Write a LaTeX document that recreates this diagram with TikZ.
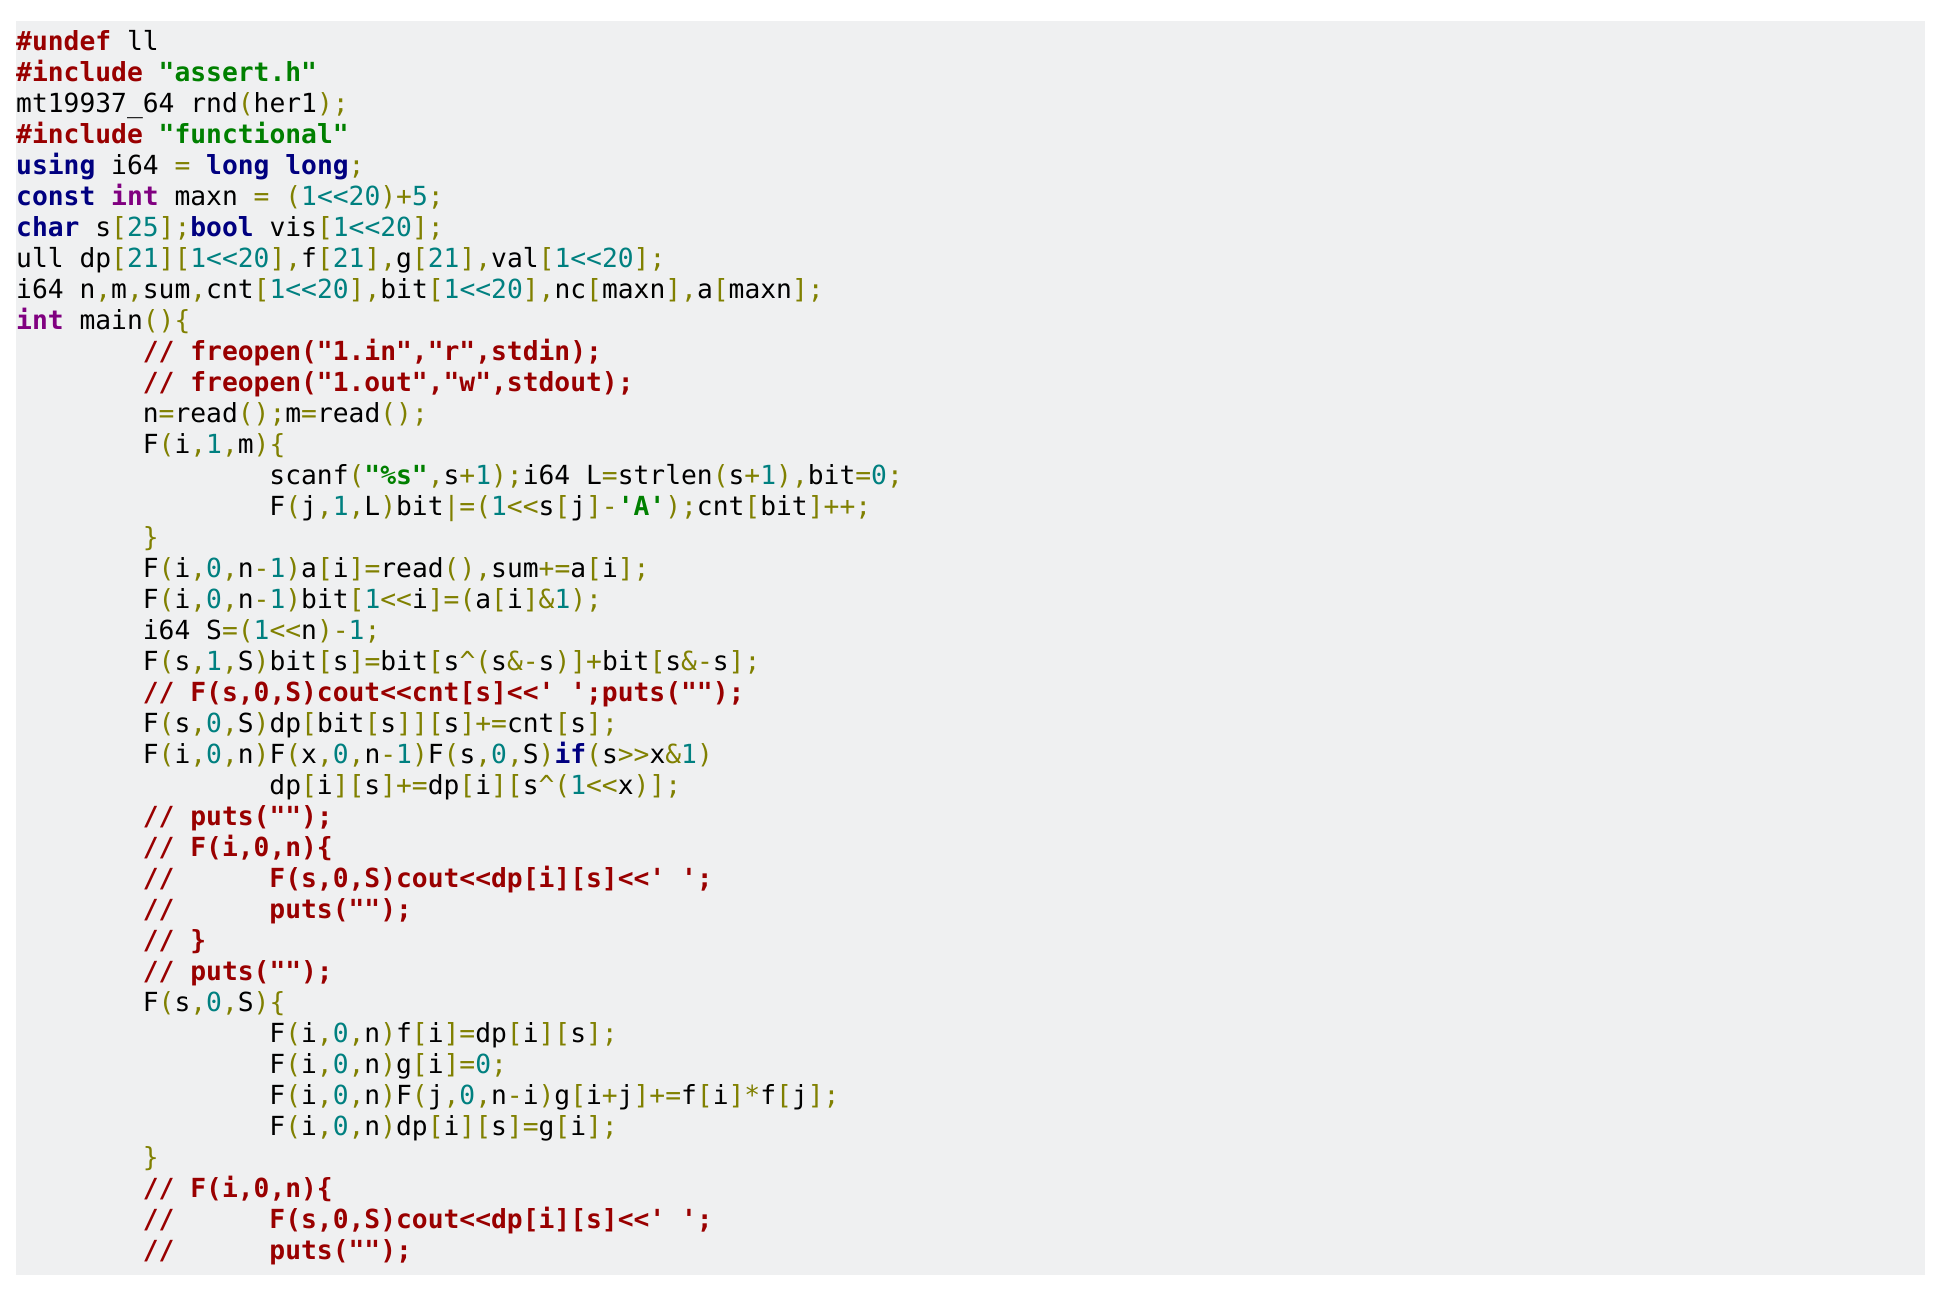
\documentclass[tikz,border=0pt]{standalone}
\usepackage{fontspec}
\setmonofont{DejaVu Sans Mono}
\definecolor{cred}{HTML}{990000}
\definecolor{cgreen}{HTML}{008000}
\definecolor{cnavy}{HTML}{000080}
\definecolor{cpurple}{HTML}{800080}
\definecolor{cteal}{HTML}{008080}
\definecolor{colive}{HTML}{808000}
\definecolor{cbg}{HTML}{EFF0F1}
\newcommand\cR[1]{\textcolor{cred}{\bfseries #1}}
\newcommand\cG[1]{\textcolor{cgreen}{\bfseries #1}}
\newcommand\cB[1]{\textcolor{cnavy}{\bfseries #1}}
\newcommand\cP[1]{\textcolor{cpurple}{\bfseries #1}}
\newcommand\cT[1]{\textcolor{cteal}{#1}}
\newcommand\cO[1]{\textcolor{colive}{#1}}
\newcommand\bk[1]{\cO{[}\cT{#1}\cO{]}}
\newcommand\ind[1]{\hspace*{#1\dimexpr 15.83pt\relax}}
\begin{document}
\begin{tikzpicture}[x=1pt,y=1pt,
  code/.style={anchor=base west,inner sep=0pt,font=\ttfamily\fontsize{26.3}{31}\selectfont}]
\useasboundingbox (0,0) rectangle (1940,-1294);
\fill[cbg] (16,-21) rectangle (1925,-1275);
\def\L#1#2{\node[code] (l#1) at (16,{-50-(#1-1)*31.0}) {#2};}
\L{1}{\cR{\#undef} ll}
\L{2}{\cR{\#include} \cG{"assert.h"}}
\L{3}{mt19937\_64 rnd\cO{(}her1\cO{);}}
\L{4}{\cR{\#include} \cG{"functional"}}
\L{5}{\cB{using} i64 \cO{=} \cB{long} \cB{long}\cO{;}}
\L{6}{\cB{const} \cP{int} maxn \cO{=} \cO{(}\cT{1<<20}\cO{)+}\cT{5}\cO{;}}
\L{7}{\cB{char} s\bk{25}\cO{;}\cB{bool} vis\bk{1<<20}\cO{;}}
\L{8}{ull dp\bk{21}\bk{1<<20}\cO{,}f\bk{21}\cO{,}g\bk{21}\cO{,}val\bk{1<<20}\cO{;}}
\L{9}{i64 n\cO{,}m\cO{,}sum\cO{,}cnt\bk{1<<20}\cO{,}bit\bk{1<<20}\cO{,}nc\cO{[}maxn\cO{],}a\cO{[}maxn\cO{];}}
\L{10}{\cP{int} main\cO{()\{}}
\L{11}{\ind{8}\cR{// freopen("1.in","r",stdin);}}
\L{12}{\ind{8}\cR{// freopen("1.out","w",stdout);}}
\L{13}{\ind{8}n\cO{=}read\cO{();}m\cO{=}read\cO{();}}
\L{14}{\ind{8}F\cO{(}i\cO{,}\cT{1}\cO{,}m\cO{)\{}}
\L{15}{\ind{16}scanf\cO{(}\cG{"\%s"}\cO{,}s\cO{+}\cT{1}\cO{);}i64 L\cO{=}strlen\cO{(}s\cO{+}\cT{1}\cO{),}bit\cO{=}\cT{0}\cO{;}}
\L{16}{\ind{16}F\cO{(}j\cO{,}\cT{1}\cO{,}L\cO{)}bit\cO{|=(}\cT{1}\cO{<<}s\cO{[}j\cO{]-}\cG{'A'}\cO{);}cnt\cO{[}bit\cO{]++;}}
\L{17}{\ind{8}\cO{\}}}
\L{18}{\ind{8}F\cO{(}i\cO{,}\cT{0}\cO{,}n\cO{-}\cT{1}\cO{)}a\cO{[}i\cO{]=}read\cO{(),}sum\cO{+=}a\cO{[}i\cO{];}}
\L{19}{\ind{8}F\cO{(}i\cO{,}\cT{0}\cO{,}n\cO{-}\cT{1}\cO{)}bit\cO{[}\cT{1}\cO{<<}i\cO{]=(}a\cO{[}i\cO{]\&}\cT{1}\cO{);}}
\L{20}{\ind{8}i64 S\cO{=(}\cT{1}\cO{<<}n\cO{)-}\cT{1}\cO{;}}
\L{21}{\ind{8}F\cO{(}s\cO{,}\cT{1}\cO{,}S\cO{)}bit\cO{[}s\cO{]=}bit\cO{[}s\cO{\textasciicircum(}s\cO{\&-}s\cO{)]+}bit\cO{[}s\cO{\&-}s\cO{];}}
\L{22}{\ind{8}\cR{// F(s,0,S)cout<<cnt[s]<<' ';puts("");}}
\L{23}{\ind{8}F\cO{(}s\cO{,}\cT{0}\cO{,}S\cO{)}dp\cO{[}bit\cO{[}s\cO{]][}s\cO{]+=}cnt\cO{[}s\cO{];}}
\L{24}{\ind{8}F\cO{(}i\cO{,}\cT{0}\cO{,}n\cO{)}F\cO{(}x\cO{,}\cT{0}\cO{,}n\cO{-}\cT{1}\cO{)}F\cO{(}s\cO{,}\cT{0}\cO{,}S\cO{)}\cB{if}\cO{(}s\cO{>>}x\cO{\&}\cT{1}\cO{)}}
\L{25}{\ind{16}dp\cO{[}i\cO{][}s\cO{]+=}dp\cO{[}i\cO{][}s\cO{\textasciicircum(}\cT{1}\cO{<<}x\cO{)];}}
\L{26}{\ind{8}\cR{// puts("");}}
\L{27}{\ind{8}\cR{// F(i,0,n)\{}}
\L{28}{\ind{8}\cR{//\ind{6}F(s,0,S)cout<<dp[i][s]<<' ';}}
\L{29}{\ind{8}\cR{//\ind{6}puts("");}}
\L{30}{\ind{8}\cR{// \}}}
\L{31}{\ind{8}\cR{// puts("");}}
\L{32}{\ind{8}F\cO{(}s\cO{,}\cT{0}\cO{,}S\cO{)\{}}
\L{33}{\ind{16}F\cO{(}i\cO{,}\cT{0}\cO{,}n\cO{)}f\cO{[}i\cO{]=}dp\cO{[}i\cO{][}s\cO{];}}
\L{34}{\ind{16}F\cO{(}i\cO{,}\cT{0}\cO{,}n\cO{)}g\cO{[}i\cO{]=}\cT{0}\cO{;}}
\L{35}{\ind{16}F\cO{(}i\cO{,}\cT{0}\cO{,}n\cO{)}F\cO{(}j\cO{,}\cT{0}\cO{,}n\cO{-}i\cO{)}g\cO{[}i\cO{+}j\cO{]+=}f\cO{[}i\cO{]*}f\cO{[}j\cO{];}}
\L{36}{\ind{16}F\cO{(}i\cO{,}\cT{0}\cO{,}n\cO{)}dp\cO{[}i\cO{][}s\cO{]=}g\cO{[}i\cO{];}}
\L{37}{\ind{8}\cO{\}}}
\L{38}{\ind{8}\cR{// F(i,0,n)\{}}
\L{39}{\ind{8}\cR{//\ind{6}F(s,0,S)cout<<dp[i][s]<<' ';}}
\L{40}{\ind{8}\cR{//\ind{6}puts("");}}
\end{tikzpicture}
\end{document}
